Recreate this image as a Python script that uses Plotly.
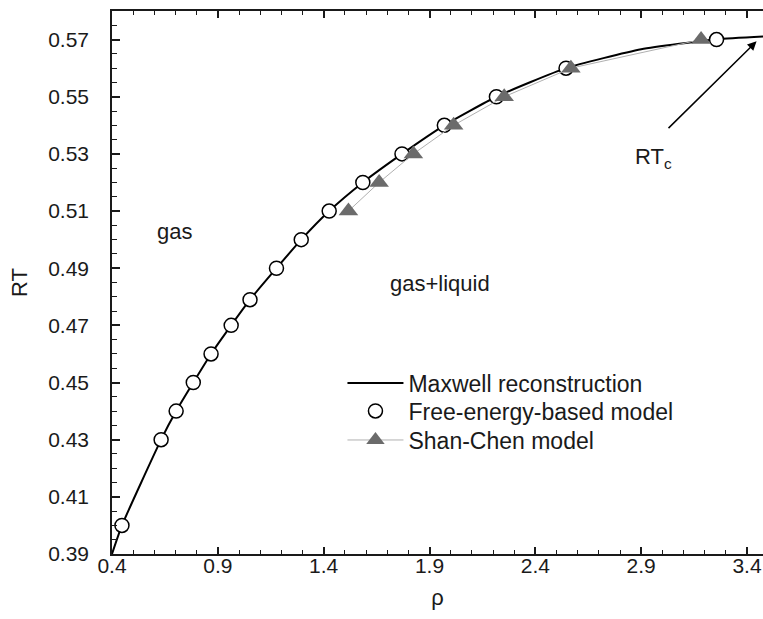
import plotly.graph_objects as go

# Maxwell reconstruction curve (gas branch)
maxwell_rho = [0.40, 0.447, 0.632, 0.703, 0.784, 0.868, 0.963, 1.052, 1.177, 1.294,
               1.426, 1.585, 1.770, 1.970, 2.216, 2.545, 2.900, 3.256, 3.476]
maxwell_rt = [0.390, 0.400, 0.430, 0.440, 0.450, 0.460, 0.470, 0.479, 0.490, 0.500,
              0.510, 0.520, 0.530, 0.540, 0.550, 0.560, 0.5666, 0.5701, 0.5711]

# Free-energy-based model
fe_rho = [0.447, 0.632, 0.703, 0.784, 0.868, 0.963, 1.052, 1.177, 1.294, 1.426,
          1.585, 1.770, 1.970, 2.216, 2.545, 3.256]
fe_rt = [0.400, 0.430, 0.440, 0.450, 0.460, 0.470, 0.479, 0.490, 0.500, 0.510,
         0.520, 0.530, 0.540, 0.550, 0.560, 0.570]

# Shan-Chen model
sc_rho = [1.517, 1.662, 1.824, 2.014, 2.253, 2.568, 3.183]
sc_rt = [0.510, 0.520, 0.530, 0.540, 0.550, 0.560, 0.570]

x_range = [0.4, 3.4755]
y_range = [0.39, 0.58]

FONT = "Liberation Sans, Arial, sans-serif"
INK = "#1a1a1a"
LEG_FONT = dict(size=23, family=FONT, color=INK)

fig = go.Figure()

fig.add_trace(go.Scatter(
    x=maxwell_rho, y=maxwell_rt, mode="lines", name="Maxwell reconstruction",
    line=dict(color="black", width=2, shape="spline", smoothing=0.5),
    legend="legend",
))
fig.add_trace(go.Scatter(
    x=fe_rho, y=fe_rt, mode="markers", name="Free-energy-based model",
    marker=dict(symbol="circle", size=14, color="white",
                line=dict(color="black", width=1.5)),
    legend="legend2",
))
fig.add_trace(go.Scatter(
    x=sc_rho, y=sc_rt, mode="lines+markers", name="Shan-Chen model",
    line=dict(color="#b0b0b0", width=1),
    marker=dict(symbol="triangle-up", size=17, color="#6b6b6b",
                line=dict(width=0)),
    legend="legend3",
))

fig.add_annotation(x=0.693, y=0.5027, text="gas", showarrow=False,
                   font=dict(size=22, family=FONT, color=INK))
fig.add_annotation(x=1.951, y=0.4845, text="gas+liquid", showarrow=False,
                   font=dict(size=22, family=FONT, color=INK))
fig.add_annotation(x=2.96, y=0.5285, text="RT<sub>c</sub>", showarrow=False,
                   font=dict(size=22, family=FONT, color=INK))
fig.add_annotation(x=3.445, y=0.5694, ax=3.022, ay=0.5385,
                   xref="x", yref="y", axref="x", ayref="y",
                   text="", showarrow=True, arrowhead=2, arrowsize=1.2,
                   arrowwidth=1.5, arrowcolor="black")

axis_common = dict(
    showgrid=False, zeroline=False, showline=True, linecolor=INK, linewidth=1.5,
    ticks="inside", tickcolor=INK, tickwidth=1.5,
    tickfont=dict(size=21, family=FONT, color=INK),
)

fig.update_xaxes(
    range=x_range, tick0=0.4, dtick=0.5, ticklen=7, mirror="ticks",
    ticklabelstandoff=-8,
    minor=dict(tick0=0.4, dtick=0.1, ticks="inside", ticklen=4, tickwidth=1.2,
               tickcolor=INK),
    title=dict(text="ρ", font=dict(size=22, family=FONT, color=INK), standoff=14),
    **axis_common,
)
fig.update_yaxes(
    range=y_range, tick0=0.39, dtick=0.02, tickformat=".2f", ticklen=8,
    ticklabelstandoff=17,
    minor=dict(tick0=0.39, dtick=0.005, ticks="inside", ticklen=5, tickwidth=1.2,
               tickcolor=INK),
    title=dict(text="RT", font=dict(size=22, family=FONT, color=INK), standoff=14),
    **axis_common,
)

leg_common = dict(xanchor="left", yanchor="middle", bgcolor="rgba(0,0,0,0)",
                  itemwidth=56, font=LEG_FONT)

fig.update_layout(
    width=763, height=619,
    margin=dict(l=112, r=0, t=11, b=65),
    paper_bgcolor="white", plot_bgcolor="white",
    font=dict(family=FONT, color=INK),
    showlegend=True,
    legend=dict(x=0.354, y=0.3149, **leg_common),
    legend2=dict(x=0.354, y=0.2634, **leg_common),
    legend3=dict(x=0.354, y=0.2099, **leg_common),
)

fig.write_html("out.html")
